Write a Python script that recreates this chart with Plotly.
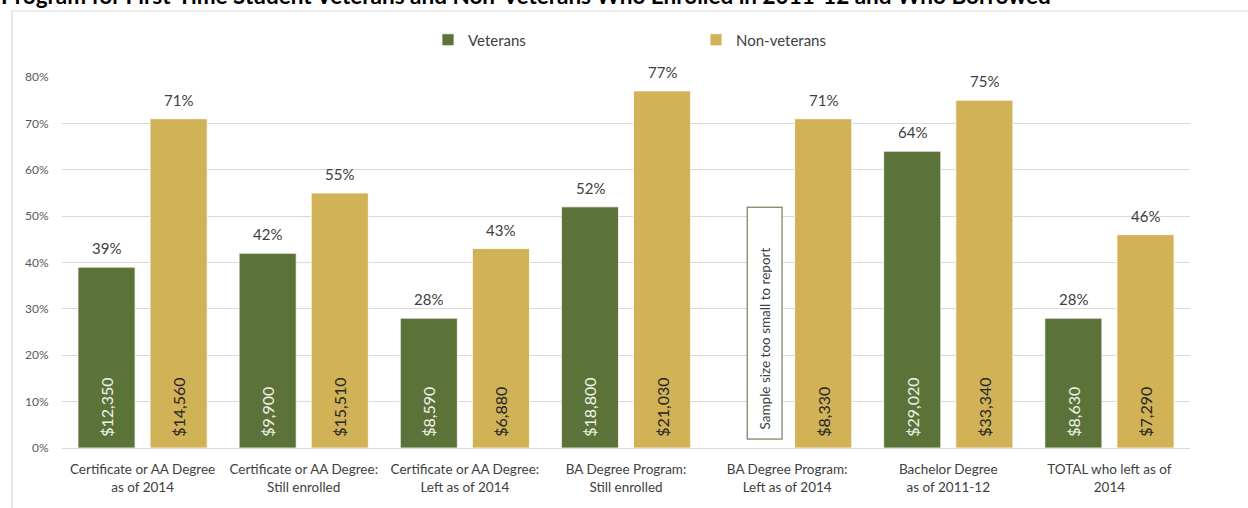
import plotly.graph_objects as go

# Average cumulative debt by program, veterans vs. non-veterans
categories = [
    "Certificate or AA Degree<br>as of 2014",
    "Certificate or AA Degree:<br>Still enrolled",
    "Certificate or AA Degree:<br>Left as of 2014",
    "BA Degree Program:<br>Still enrolled",
    "BA Degree Program:<br>Left as of 2014",
    "Bachelor Degree<br>as of 2011-12",
    "TOTAL who left as of<br>2014",
]
veteran_pct = [39, 42, 28, 52, None, 64, 28]
nonvet_pct = [71, 55, 43, 77, 71, 75, 46]
veteran_debt = [12350, 9900, 8590, 18800, None, 29020, 8630]
nonvet_debt = [14560, 15510, 6880, 21030, 8330, 33340, 7290]
y_ticks = [0, 10, 20, 30, 40, 50, 60, 70, 80]
y_tick_labels = ["0%", "10%", "20%", "30%", "40%", "50%", "60%", "70%", "80%"]
title_text = ("Program for First-Time Student Veterans and Non-Veterans "
              "Who Enrolled in 2011-12 and Who Borrowed")
no_data_note = "Sample size too small to report"

GREEN = "#5b7339"
GOLD = "#d1b257"
FONT = "Lato"

W, H = 1248, 508
ML, MR, MT, MB = 62, 58, 77, 60
PW, PH = W - ML - MR, H - MT - MB


def px_x(p):
    return (p - ML) / PW


def px_y(p):
    return (H - MB - p) / PH


def money(v):
    # leading spaces lift the rotated label off the bar base
    return "" if v is None else "\u00a0\u00a0" + f"${v:,}"


fig = go.Figure()
fig.add_trace(go.Bar(
    name="Veterans", x=categories, y=veteran_pct,
    marker=dict(color=GREEN, line=dict(color="white", width=0.8)),
    text=[money(v) for v in veteran_debt], textposition="inside",
    insidetextanchor="start", textangle=-90,
    insidetextfont=dict(family=FONT, size=16, color="#eef2e8"),
    hoverinfo="skip",
))
fig.add_trace(go.Bar(
    name="Non-veterans", x=categories, y=nonvet_pct,
    marker=dict(color=GOLD, line=dict(color="white", width=0.8)),
    text=[money(v) for v in nonvet_debt], textposition="inside",
    insidetextanchor="start", textangle=-90,
    insidetextfont=dict(family=FONT, size=16, color="#262626"),
    hoverinfo="skip",
))

annotations = []
# percentage labels above each bar
for cat, v in zip(categories, veteran_pct):
    if v is not None:
        annotations.append(dict(x=cat, y=v, text=f"{v}%", showarrow=False,
                                xshift=-36, yshift=8, yanchor="bottom",
                                font=dict(family=FONT, size=15, color="#404040")))
for cat, v in zip(categories, nonvet_pct):
    annotations.append(dict(x=cat, y=v, text=f"{v}%", showarrow=False,
                            xshift=36, yshift=8, yanchor="bottom",
                            font=dict(family=FONT, size=15, color="#404040")))

# boxed note where the veteran value is missing
for cat, v in zip(categories, veteran_pct):
    if v is None:
        annotations.append(dict(
            x=cat, y=0, text=no_data_note + "\u00a0" * 9, showarrow=False,
            textangle=-90, xshift=-23, yshift=8, yanchor="bottom",
            bordercolor="#6e8259", borderwidth=1.2, borderpad=9,
            bgcolor="white",
            font=dict(family=FONT, size=13.5, color="#404040")))

# chart title running off the top edge
annotations.append(dict(
    xref="paper", yref="paper", x=px_x(-1), y=px_y(11),
    xanchor="left", yanchor="bottom", showarrow=False, text=f"<b>{title_text}</b>",
    font=dict(family=FONT, size=22.5, color="#000000")))

fig.update_layout(
    width=W, height=H,
    margin=dict(l=ML, r=MR, t=MT, b=MB),
    paper_bgcolor="white", plot_bgcolor="white",
    barmode="group", bargap=0.105, bargroupgap=0.208,
    font=dict(family=FONT, color="#404040"),
    showlegend=True,
    legend=dict(orientation="h", x=px_x(428), y=px_y(40), xanchor="left",
                yanchor="middle", entrywidth=223, traceorder="normal",
                font=dict(family=FONT, size=15, color="#404040"),
                bgcolor="rgba(0,0,0,0)"),
    annotations=annotations,
    shapes=[dict(type="rect", xref="paper", yref="paper",
                 x0=px_x(12), x1=px_x(1262), y0=px_y(522), y1=px_y(11),
                 line=dict(color="#d9d9d9", width=1.2), layer="below")],
)
fig.update_xaxes(
    showgrid=False, showline=False, zeroline=False,
    ticks="outside", ticklen=9, tickcolor="rgba(0,0,0,0)",
    tickfont=dict(family=FONT, size=13.5, color="#404040"),
)
fig.update_yaxes(
    range=[0, 80], tickvals=y_ticks, ticktext=y_tick_labels,
    showgrid=True, gridcolor="#d9d9d9", gridwidth=1,
    zeroline=True, zerolinecolor="#d9d9d9", zerolinewidth=1,
    showline=False, ticks="outside", ticklen=10, tickcolor="rgba(0,0,0,0)",
    tickfont=dict(family=FONT, size=12, color="#595959"),
)

fig.write_html("out.html")
